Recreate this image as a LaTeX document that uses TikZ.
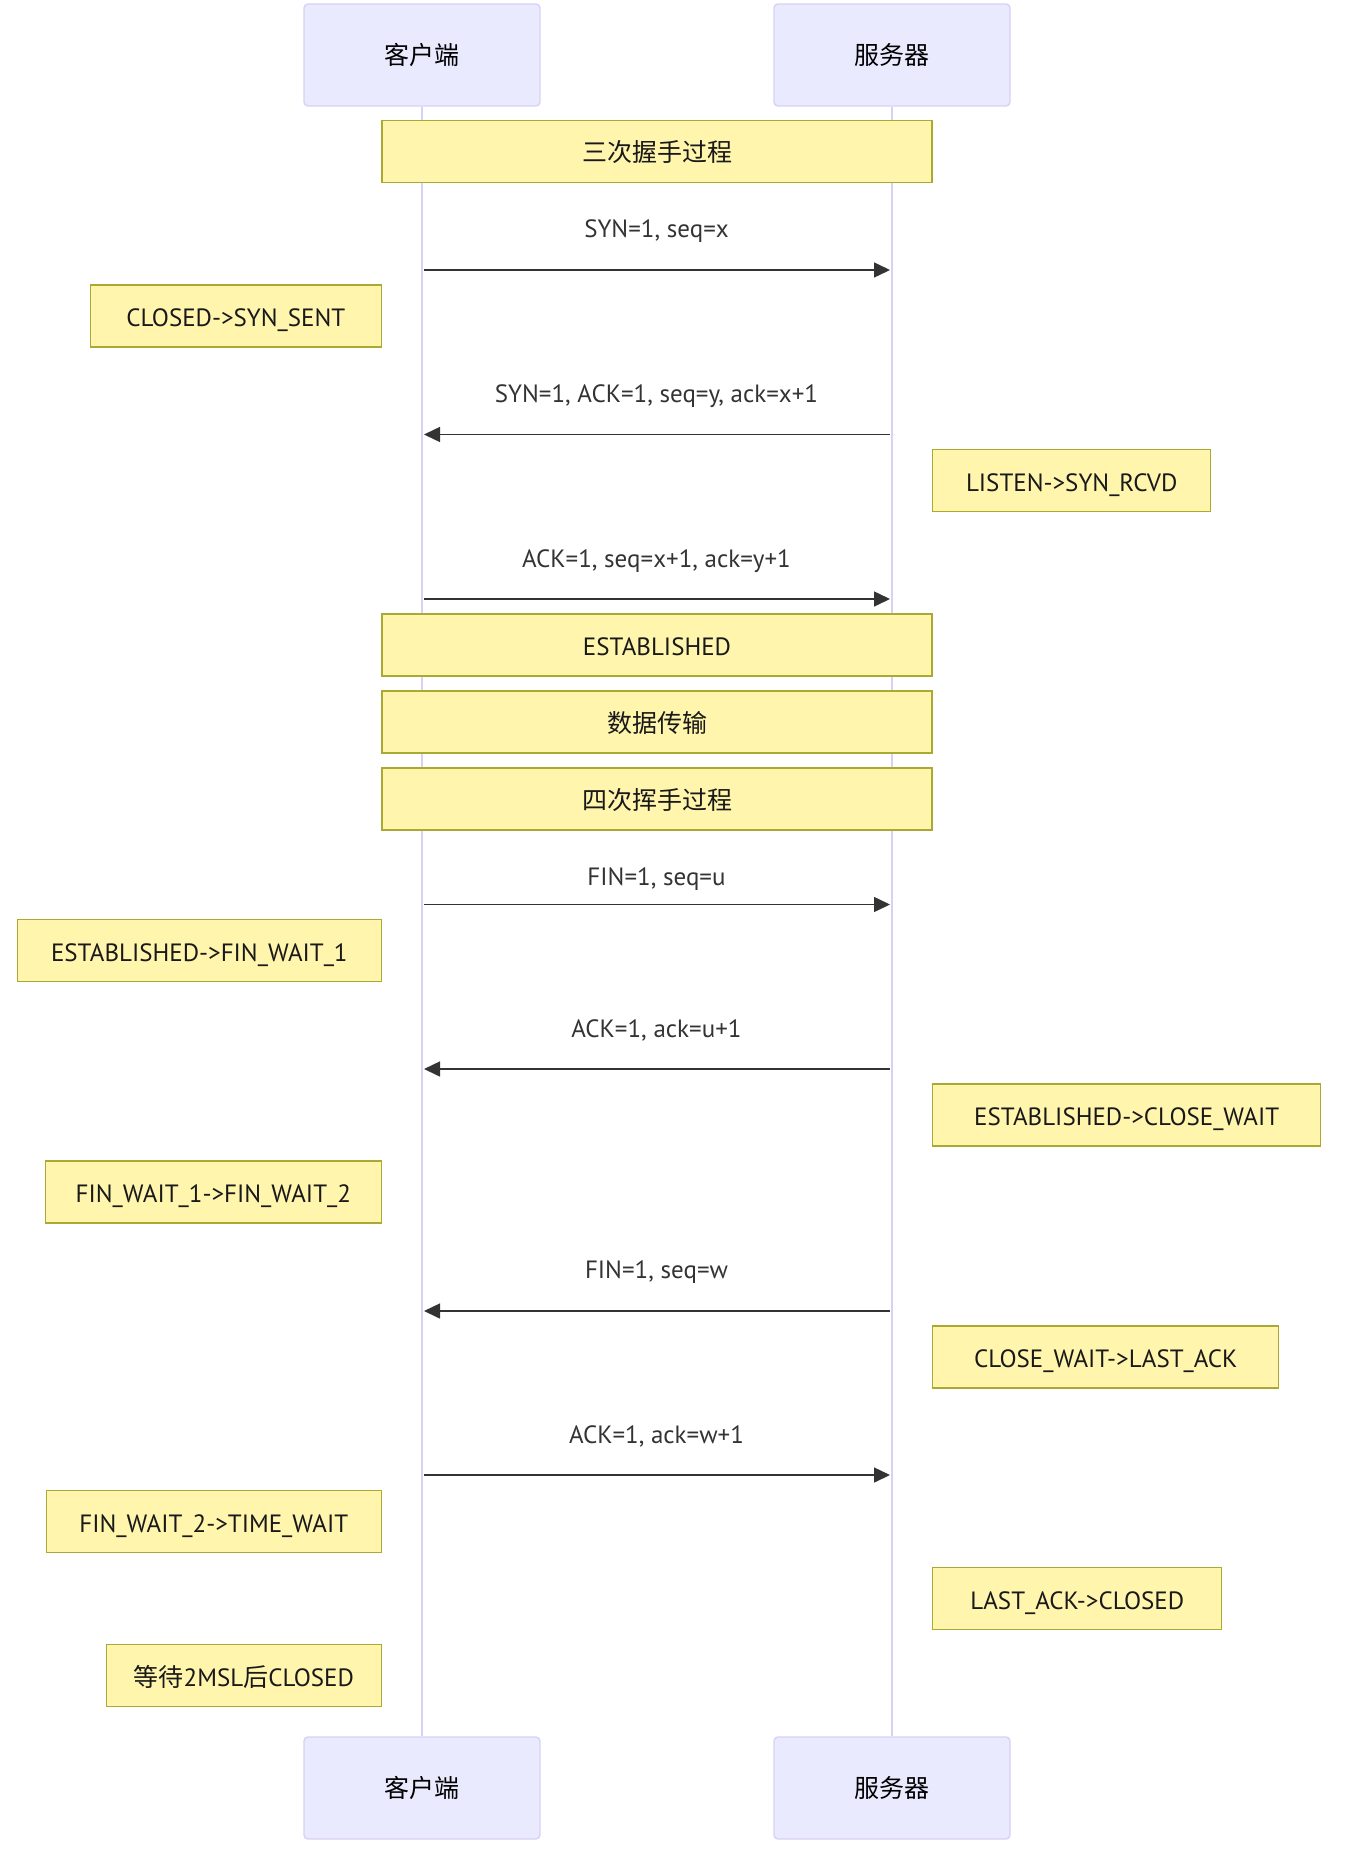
\documentclass[tikz,border=0pt]{standalone}
\usepackage{fontspec}
\setmainfont{PT Sans}
\newfontfamily\cjk{Noto Sans CJK SC}
\usetikzlibrary{positioning,arrows.meta}

\definecolor{actorfill}{HTML}{EAEAFF}
\definecolor{actorline}{HTML}{D8D0F5}
\definecolor{notefill}{HTML}{FFF5AD}
\definecolor{noteline}{HTML}{AAAA33}
\definecolor{msgline}{HTML}{333333}

\newcommand\txtsize{\fontsize{12.5}{15}\selectfont}

\begin{document}
\begin{tikzpicture}[
  x=0.5pt, y=-0.5pt,
  font=\txtsize,
  actor/.style={draw=actorline, fill=actorfill, rounded corners=2pt,
    line width=0.7pt, minimum width=118pt, minimum height=51pt, font=\cjk\txtsize},
  note/.style={draw=noteline, fill=notefill, line width=0.7pt,
    minimum height=31pt, inner xsep=0pt, text height=11.5pt, text depth=1pt,
    text=black!90},
  wd/.style={minimum width=#1*0.5pt},
  lnote/.style={note, anchor=east},
  rnote/.style={note, anchor=west},
  life/.style={draw=actorline, line width=1.25pt},
  msg/.style={draw=msgline, line width=0.75pt, -{Triangle[length=8pt, width=7.5pt]}},
  msglabel/.style={text=msgline, text height=11.5pt, text depth=1pt},
]
  \useasboundingbox (0,0) rectangle (1364,1856);

  % actors
  \node[actor] (cTop) at (422,55) {客户端};
  \node[actor] (sTop) at (892,55) {服务器};
  \node[actor] (cBot) at (422,1788) {客户端};
  \node[actor] (sBot) at (892,1788) {服务器};

  % lifelines
  \draw[life] (cTop) -- (cBot);
  \draw[life] (sTop) -- (sBot);

  % three-way handshake
  \node[note, wd=550] (hs3) at (657,151.5) {{\cjk 三次握手过程}};

  \coordinate (c1) at (424,270);   \coordinate (s1) at (890,270);
  \node[msglabel] (m1) at (656.5,227.5) {SYN=1, seq=x};
  \draw[msg] (c1) -- (s1);
  \node[lnote, wd=291] (n1) at (382,316) {CLOSED->SYN\_SENT};

  \coordinate (c2) at (424,434.5); \coordinate (s2) at (890,434.5);
  \node[msglabel] (m2) at (656.5,392) {SYN=1, ACK=1, seq=y, ack=x+1};
  \draw[msg] (s2) -- (c2);
  \node[rnote, wd=278] (n2) at (932,480.5) {LISTEN->SYN\_RCVD};

  \coordinate (c3) at (424,599);   \coordinate (s3) at (890,599);
  \node[msglabel] (m3) at (656.5,557) {ACK=1, seq=x+1, ack=y+1};
  \draw[msg] (c3) -- (s3);

  \node[note, wd=550] (est) at (657,645) {ESTABLISHED};
  \node[note, wd=550] (data) at (657,722) {{\cjk 数据传输}};

  % four-way teardown
  \node[note, wd=550] (hs4) at (657,799) {{\cjk 四次挥手过程}};

  \coordinate (c4) at (424,904.5); \coordinate (s4) at (890,904.5);
  \node[msglabel] (m4) at (656.5,875) {FIN=1, seq=u};
  \draw[msg] (c4) -- (s4);
  \node[lnote, wd=364] (n4) at (382,950.5) {ESTABLISHED->FIN\_WAIT\_1};

  \coordinate (c5) at (424,1069);  \coordinate (s5) at (890,1069);
  \node[msglabel] (m5) at (656.5,1027) {ACK=1, ack=u+1};
  \draw[msg] (s5) -- (c5);
  \node[rnote, wd=388] (n5) at (932,1115) {ESTABLISHED->CLOSE\_WAIT};
  \node[lnote, wd=336] (n6) at (382,1192) {FIN\_WAIT\_1->FIN\_WAIT\_2};

  \coordinate (c6) at (424,1311);  \coordinate (s6) at (890,1311);
  \node[msglabel] (m6) at (656.5,1268) {FIN=1, seq=w};
  \draw[msg] (s6) -- (c6);
  \node[rnote, wd=346] (n7) at (932,1357) {CLOSE\_WAIT->LAST\_ACK};

  \coordinate (c7) at (424,1475);  \coordinate (s7) at (890,1475);
  \node[msglabel] (m7) at (656.5,1433) {ACK=1, ack=w+1};
  \draw[msg] (c7) -- (s7);
  \node[lnote, wd=335] (n8) at (382,1521.5) {FIN\_WAIT\_2->TIME\_WAIT};
  \node[rnote, wd=289] (n9) at (932,1598.5) {LAST\_ACK->CLOSED};
  \node[lnote, wd=275] (n10) at (382,1675.5) {{\cjk 等待}2MSL{\cjk 后}CLOSED};
\end{tikzpicture}
\end{document}
